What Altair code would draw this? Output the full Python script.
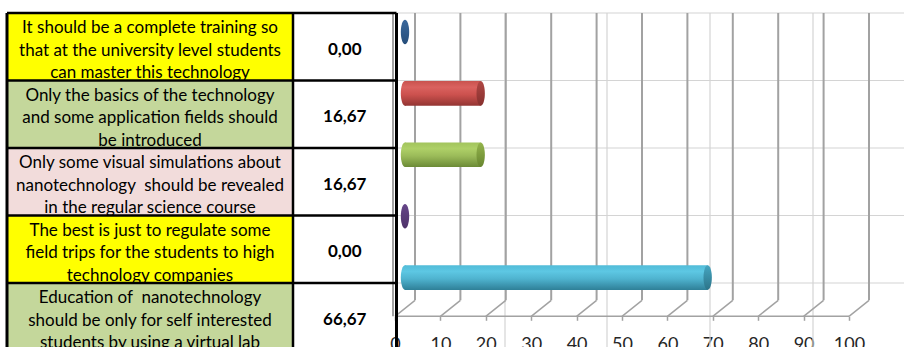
import altair as alt
import pandas as pd

# ---------------------------------------------------------------------------
# Data: survey statements and the share of answers (%) for each of them
# ---------------------------------------------------------------------------
statements = [
    ["It should be a complete training so",
     "that at the university level students",
     "can master this technology"],
    ["Only the basics of the technology",
     "and some application fields should",
     "be introduced"],
    ["Only some visual simulations about",
     "nanotechnology\u00a0 should be revealed",
     "in the regular science course"],
    ["The best is just to regulate some",
     "field trips for the students to high",
     "technology companies"],
    ["Education of\u00a0 nanotechnology",
     "should be only for self interested",
     "students by using a virtual lab"],
]
shares = [0.00, 16.67, 16.67, 0.00, 66.67]
axis_ticks = [0, 10, 20, 30, 40, 50, 60, 70, 80, 90, 100]

# ---------------------------------------------------------------------------
# Styles
# ---------------------------------------------------------------------------
row_fills = ["#FFFF00", "#C4D79B", "#F2DCDB", "#FFFF00", "#C4D79B"]

# cylinder shading per bar: body gradient stops and end-cap gradient stops
bar_styles = [
    {"body": ["#3F70A8", "#4A7DB8", "#3E6EA6", "#28507E"], "cap": ["#3A689C", "#264D7A"]},
    {"body": ["#C9534F", "#DA625F", "#CC514E", "#933533"], "cap": ["#B04744", "#86302E"]},
    {"body": ["#A2C45C", "#AED067", "#9BBB59", "#6B8A36"], "cap": ["#94B44C", "#67852F"]},
    {"body": ["#6F5293", "#7A5DA0", "#6A4E8E", "#4A3166"], "cap": ["#664689", "#4D3268"]},
    {"body": ["#52BCD8", "#5DC7E3", "#4FB3CF", "#2F8098"], "cap": ["#45A5C0", "#2C7489"]},
]

FONT = "Lato"
TEXT_SIZE = 17
LINE_H = 22.5
GRID_GREY = "#D4D4D4"
WALL_GREY = "#A2A2A2"

# ---------------------------------------------------------------------------
# Layout (pixels)
# ---------------------------------------------------------------------------
W, H = 904, 347
TABLE_TOP = 13          # top border of the table
ROW_PX = 67.5           # height of one table row
TABLE_X = [7, 293, 396.5]   # left border, column split, right border
SHEET_COLS = [505, 607, 710, 813]   # worksheet column lines behind the chart

ZERO_PX = 395           # value 0 on the front plane of the 3-D chart
PX_PER_UNIT = 4.54
BAND_TOP = 1.3          # top of the first category band (mid depth plane)
BAND_PX = 61.4          # category band height
DEPTH_X, DEPTH_Y = 20, 16   # front-to-back depth of the 3-D box
BAR_HALF = 0.2          # half cylinder height in band units
ELLIPSE = "M0,-1A0.34,1 0 1 1 0,1A0.34,1 0 1 1 0,-1Z"

n = len(statements)
FLOOR = n                                   # floor in band units
WALL_TOP = (TABLE_TOP + DEPTH_Y / 2 - BAND_TOP) / BAND_PX
FRONT_TOP = (TABLE_TOP - DEPTH_Y / 2 - BAND_TOP) / BAND_PX
front_floor_px = BAND_TOP + FLOOR * BAND_PX + DEPTH_Y / 2

# ---------------------------------------------------------------------------
# Scales
# ---------------------------------------------------------------------------
sx_table = alt.Scale(domain=[0, W], nice=False, zero=False)
sy_table = alt.Scale(domain=[-TABLE_TOP / ROW_PX, (H - TABLE_TOP) / ROW_PX],
                     reverse=True, nice=False, zero=False)
sx_chart = alt.Scale(domain=[-ZERO_PX / PX_PER_UNIT, (W - ZERO_PX) / PX_PER_UNIT],
                     nice=False, zero=False)
sy_chart = alt.Scale(domain=[-BAND_TOP / BAND_PX, (H - BAND_TOP) / BAND_PX],
                     reverse=True, nice=False, zero=False)

x_axis = alt.Axis(values=axis_ticks, orient="bottom", offset=-(H - front_floor_px),
                  domain=False, grid=False, ticks=True, tickSize=4, tickWidth=1.5,
                  tickColor=WALL_GREY, labelFont=FONT, labelFontSize=18,
                  labelColor="#262626", labelPadding=15, labelFlush=False,
                  labelOverlap=False, labelBound=False, title=None, format="d")


def tx(field):
    return alt.X(field, type="quantitative", scale=sx_table, axis=None)


def ty(field):
    return alt.Y(field, type="quantitative", scale=sy_table, axis=None)


def cx(field):
    return alt.X(field, type="quantitative", scale=sx_chart, axis=x_axis)


def cy(field):
    return alt.Y(field, type="quantitative", scale=sy_chart, axis=None)


def grad(stops):
    k = len(stops) - 1
    offsets = [0, 0.25, 0.55, 1] if k == 3 else [i / k for i in range(k + 1)]
    return alt.LinearGradient(
        gradient="linear", x1=0, y1=0, x2=0, y2=1,
        stops=[alt.GradientStop(offset=o, color=c) for o, c in zip(offsets, stops)],
    )


# ---------------------------------------------------------------------------
# Tables built from the lists above
# ---------------------------------------------------------------------------
rows = pd.DataFrame({
    "row": list(range(n)),
    "top": list(range(n)),
    "bottom": [i + 1 for i in range(n)],
    "mid": [i + 0.5 for i in range(n)],
    "fill": row_fills,
    "statement": ["\n".join(s) for s in statements],
    "label": [f"{v:.2f}".replace(".", ",") for v in shares],
    "x0": TABLE_X[0], "x1": TABLE_X[1],
    "text_x": (TABLE_X[0] + TABLE_X[1]) / 2,
    "value_x": (TABLE_X[1] + TABLE_X[2]) / 2,
})

row_lines = pd.DataFrame({"r": list(range(n + 1)),
                          "x0": TABLE_X[0], "x1": TABLE_X[2], "xs": TABLE_X[2], "xe": W})
col_lines = pd.DataFrame({"x": TABLE_X, "y0": 0, "y1": sy_table.domain[1],
                          "w": [3, 2.5, 3]})
sheet_cols = pd.DataFrame({"x": SHEET_COLS, "y0": 0, "y1": sy_table.domain[1]})

ticks = pd.DataFrame({"v": axis_ticks, "floor": FLOOR, "top": WALL_TOP,
                      "front_top": FRONT_TOP})
floor_edge = pd.DataFrame({"lo": [axis_ticks[0]], "hi": [axis_ticks[-1]], "floor": [FLOOR]})

bars = pd.DataFrame({
    "row": list(range(n)),
    "value": shares,
    "lo": 0.0,
    "yc": [i + 0.5 for i in range(n)],
    "y0": [i + 0.5 - BAR_HALF for i in range(n)],
    "y1": [i + 0.5 + BAR_HALF for i in range(n)],
})

# ---------------------------------------------------------------------------
# Worksheet: cell fills and the light cell grid
# ---------------------------------------------------------------------------
fills = alt.Chart(rows).mark_rect().encode(
    x=tx("x0"), x2="x1", y=ty("top"), y2="bottom",
    color=alt.Color("fill:N", scale=None),
)
sheet_h = alt.Chart(row_lines).mark_rule(color=GRID_GREY, strokeWidth=1.2).encode(
    x=tx("xs"), x2="xe", y=ty("r"),
)
sheet_v = alt.Chart(sheet_cols).mark_rule(color=GRID_GREY, strokeWidth=1.2).encode(
    x=tx("x"), y=ty("y0"), y2="y1",
)
sheet = alt.layer(fills, sheet_h, sheet_v)

# ---------------------------------------------------------------------------
# 3-D bar chart: walls, floor and cylinders
# ---------------------------------------------------------------------------
back_walls = alt.Chart(ticks).mark_rule(
    color=WALL_GREY, strokeWidth=2, xOffset=DEPTH_X,
    yOffset=-DEPTH_Y / 2, y2Offset=-DEPTH_Y / 2,
).encode(x=cx("v"), y=cy("floor"), y2="top")

floor_diagonals = alt.Chart(ticks).mark_rule(
    color=WALL_GREY, strokeWidth=1.5, xOffset=0, x2Offset=DEPTH_X,
    yOffset=DEPTH_Y / 2, y2Offset=-DEPTH_Y / 2,
).encode(x=cx("v"), x2="v", y=cy("floor"), y2="floor")

front_edge = alt.Chart(floor_edge).mark_rule(
    color=WALL_GREY, strokeWidth=1.5, yOffset=DEPTH_Y / 2,
).encode(x=cx("lo"), x2="hi", y=cy("floor"))

side_wall = alt.Chart(ticks).transform_filter(alt.datum.v == axis_ticks[0]).mark_rule(
    color=WALL_GREY, strokeWidth=2, xOffset=-2,
    yOffset=DEPTH_Y / 2, y2Offset=DEPTH_Y / 2,
).encode(x=cx("v"), y=cy("floor"), y2="front_top")

chart_layers = [back_walls, floor_diagonals, front_edge, side_wall]

for i, style in enumerate(bar_styles):
    one = alt.Chart(bars).transform_filter(alt.datum.row == i)
    body = grad(style["body"])
    cap = grad(style["cap"])
    if shares[i] > 0:
        chart_layers.append(one.mark_point(
            shape=ELLIPSE, size=(2 * BAR_HALF * BAND_PX) ** 2, filled=True,
            fill=body, opacity=1, strokeWidth=0, xOffset=DEPTH_X / 2,
        ).encode(x=cx("lo"), y=cy("yc")))
        chart_layers.append(one.mark_rect(
            fill=body, xOffset=DEPTH_X / 2, x2Offset=DEPTH_X / 2,
        ).encode(x=cx("lo"), x2="value", y=cy("y0"), y2="y1"))
    chart_layers.append(one.mark_point(
        shape=ELLIPSE, size=(2 * BAR_HALF * BAND_PX) ** 2, filled=True,
        fill=cap, opacity=1, strokeWidth=0, xOffset=DEPTH_X / 2,
    ).encode(x=cx("value"), y=cy("yc")))

bar_chart = alt.layer(*chart_layers)

# ---------------------------------------------------------------------------
# Table borders and texts on top
# ---------------------------------------------------------------------------
h_borders = alt.Chart(row_lines).mark_rule(color="#000000", strokeWidth=2.6).encode(
    x=tx("x0"), x2="x1", y=ty("r"),
)
v_borders = alt.Chart(col_lines).mark_rule(color="#000000").encode(
    x=tx("x"), y=ty("y0"), y2="y1",
    strokeWidth=alt.StrokeWidth("w:Q", scale=None),
)
# three-line cell texts: the first line sits one line above the cell centre
statement_text = alt.Chart(rows).mark_text(
    font=FONT, fontSize=TEXT_SIZE, lineBreak="\n", lineHeight=LINE_H,
    align="center", baseline="middle", color="#000000", dy=4 - LINE_H,
).encode(x=tx("text_x"), y=ty("mid"), text="statement:N")
value_text = alt.Chart(rows).mark_text(
    font=FONT, fontSize=TEXT_SIZE, fontWeight="bold",
    align="center", baseline="middle", color="#000000", dy=3,
).encode(x=tx("value_x"), y=ty("mid"), text="label:N")
table = alt.layer(h_borders, v_borders, statement_text, value_text)

chart = alt.layer(sheet, bar_chart, table).resolve_scale(
    x="independent", y="independent",
).properties(
    width=W, height=H, padding=0,
    autosize=alt.AutoSizeParams(type="none"),
    background="#FFFFFF",
).configure_view(stroke=None)

chart.save("out.html", embed_options={"renderer": "svg", "actions": False})
